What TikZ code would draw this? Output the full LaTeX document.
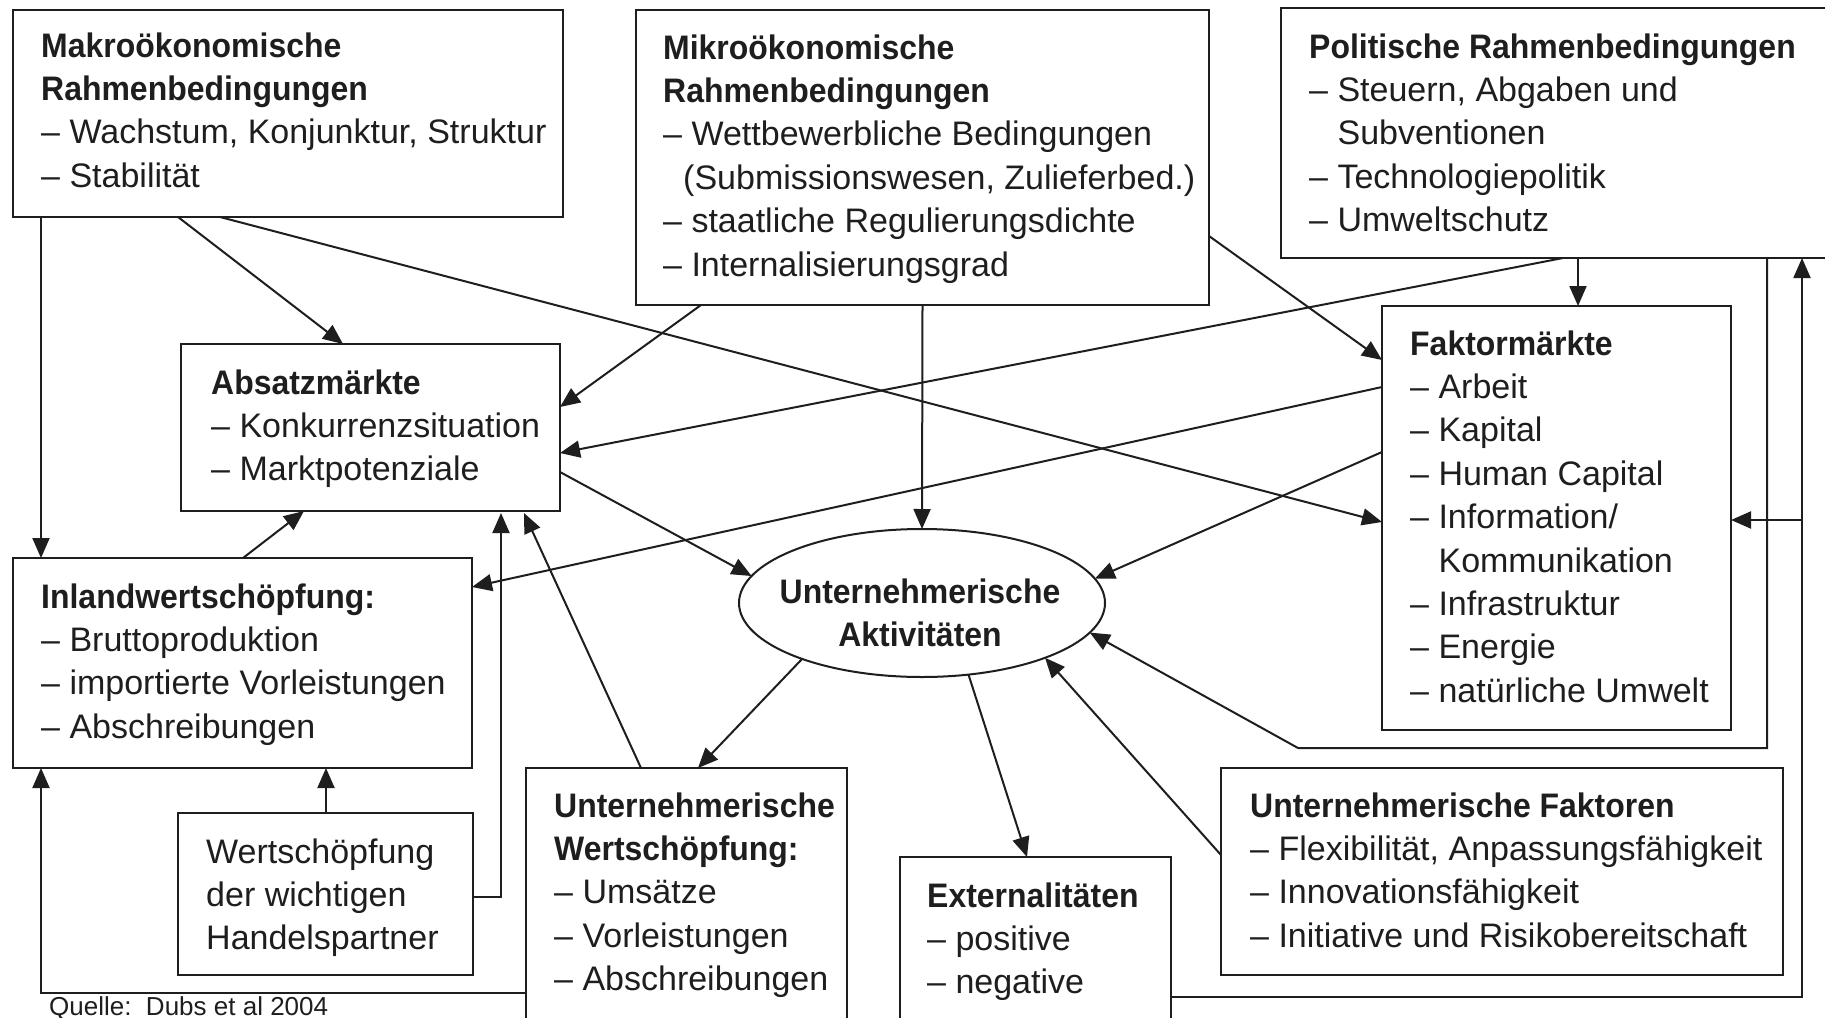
\documentclass[tikz,border=0pt]{standalone}
\usepackage{fontspec}
\setmainfont{Liberation Sans}
\newfontface\hb[FakeStretch=0.94]{Liberation Sans Bold}
\usetikzlibrary{arrows.meta,shapes.geometric,calc}
\definecolor{ink}{HTML}{1E1E1E}
% left-aligned block of lines whose baseline is the first line
\newcommand\txtlines[1]{\begin{tabular}[t]{@{}l@{}}#1\end{tabular}}
\newcommand\dashind{\phantom{– }}
\begin{document}
\begin{tikzpicture}[x=1pt,y=-1pt,
  box/.style={draw=ink, line width=2pt, rectangle, anchor=north west,
              inner sep=0pt, outer sep=0pt},
  txt/.style={anchor=base west, inner sep=0pt, text=ink,
              font=\fontsize{34}{43.4}\selectfont},
  conn/.style={draw=ink, line width=2pt},
  flow/.style={conn, -{Triangle[length=20pt,width=17pt]}}]

\useasboundingbox (0,0) rectangle (1825,1017);
\fill[white] (0,0) rectangle (1825,1017);

% ---------- boxes ----------
\node[box, minimum width=550pt, minimum height=207pt] (macro)  at (13,10)    {};
\node[box, minimum width=573pt, minimum height=295pt] (micro)  at (636,10)   {};
\node[box, minimum width=560pt, minimum height=250pt] (polit)  at (1281,8)   {};
\node[box, minimum width=379pt, minimum height=167pt] (absatz) at (181,344)  {};
\node[box, minimum width=349pt, minimum height=424pt] (faktor) at (1382,306) {};
\node[box, minimum width=459pt, minimum height=210pt] (inland) at (13,558)   {};
\node[box, minimum width=295pt, minimum height=162pt] (handel) at (178,813)  {};
\node[box, minimum width=321pt, minimum height=262pt] (uws)    at (526,768)  {};
\node[box, minimum width=271pt, minimum height=173pt] (ext)    at (900,857)  {};
\node[box, minimum width=562pt, minimum height=207pt] (ufak)   at (1221,768) {};
\node[draw=ink, line width=2pt, ellipse, inner sep=0pt, outer sep=0pt,
      minimum width=366pt, minimum height=148pt] (ell) at (922,603) {};

% ---------- texts ----------
\node[txt] (macroT) at (41,57) {\txtlines{\hb Makroökonomische\\
  \hb Rahmenbedingungen\\ – Wachstum, Konjunktur, Struktur\\ – Stabilität}};
\node[txt] (microT) at (663,59) {\txtlines{\hb Mikroökonomische\\
  \hb Rahmenbedingungen\\ – Wettbewerbliche Bedingungen\\
  \hspace*{20pt}(Submissionswesen, Zulieferbed.)\\
  – staatliche Regulierungsdichte\\ – Internalisierungsgrad}};
\node[txt] (politT) at (1309,58) {\txtlines{\hb Politische Rahmenbedingungen\\
  – Steuern, Abgaben und\\ \dashind Subventionen\\
  – Technologiepolitik\\ – Umweltschutz}};
\node[txt] (absatzT) at (211,394) {\txtlines{\hb Absatzmärkte\\
  – Konkurrenzsituation\\ – Marktpotenziale}};
\node[txt] (faktorT) at (1410,355) {\txtlines{\hb Faktormärkte\\
  – Arbeit\\ – Kapital\\ – Human Capital\\ – Information/\\
  \dashind Kommunikation\\ – Infrastruktur\\ – Energie\\
  – natürliche Umwelt}};
\node[txt] (inlandT) at (41,608) {\txtlines{\hb Inlandwertschöpfung:\\
  – Bruttoproduktion\\ – importierte Vorleistungen\\ – Abschreibungen}};
\node[txt] (handelT) at (206,863) {\txtlines{Wertschöpfung\\
  der wichtigen\\ Handelspartner}};
\node[txt] (uwsT) at (554,817) {\txtlines{\hb Unternehmerische\\
  \hb Wertschöpfung:\\ – Umsätze\\ – Vorleistungen\\ – Abschreibungen}};
\node[txt] (extT) at (927,907) {\txtlines{\hb Externalitäten\\
  – positive\\ – negative}};
\node[txt] (ufakT) at (1250,817) {\txtlines{\hb Unternehmerische Faktoren\\
  – Flexibilität, Anpassungsfähigkeit\\ – Innovationsfähigkeit\\
  – Initiative und Risikobereitschaft}};
\node[txt, anchor=base] (ellT) at (920,603) {\begin{tabular}[t]{@{}c@{}}%
  \hb Unternehmerische\\ \hb Aktivitäten\end{tabular}};

\node[anchor=base west, inner sep=0pt, text=ink,
      font=\fontsize{26}{30}\selectfont] (src) at (49,1015)
  {\frenchspacing Quelle:\ \ Dubs et al 2004};

% ---------- connectors ----------
% from the macroeconomic frame
\draw[flow] ($(macro.south west)+(28,0)$) -- ($(inland.north west)+(28,0)$);
\draw[flow] ($(macro.south west)+(165,0)$) -- ($(absatz.north west)+(162,0)$);
\draw[flow] ($(macro.south west)+(207,0)$) -- ($(faktor.north west)+(0,216)$);
% from the microeconomic frame
\draw[flow] ($(micro.south west)+(65,0)$) -- ($(absatz.north east)+(0,63)$);
\draw[flow] (micro.south) -- (ell.north);
\draw[flow] ($(micro.north east)+(0,226)$) -- ($(faktor.north west)+(0,54)$);
% from the political frame
\draw[flow] ($(polit.south west)+(282,0)$) -- ($(absatz.north east)+(0,109)$);
\draw[flow] ($(polit.south west)+(297,0)$) -- ($(faktor.north west)+(196,0)$);
\coordinate (bend) at ($(faktor.south west)+(-84,18)$);
\draw[flow] ($(polit.south west)+(486,0)$) |- (bend) -- (ell.350);
% from the factor markets
\draw[flow] ($(faktor.north west)+(0,81)$) -- ($(inland.north east)+(0,29)$);
\draw[flow] ($(faktor.north west)+(0,146)$) -- (ell.8);
% around the sales markets
\draw[flow] ($(absatz.north east)+(0,128)$) -- (ell.171);
\draw[flow] ($(inland.north west)+(230,0)$) -- ($(absatz.south west)+(123,0)$);
\draw[flow] ($(uws.north west)+(115,0)$) -- ($(absatz.south west)+(343,2)$);
\draw[flow] ($(handel.north east)+(0,84)$) -| ($(absatz.south west)+(320,2)$);
\draw[flow] ($(handel.north west)+(148,0)$) -- ($(inland.south west)+(313,0)$);
\draw[flow] ($(uws.north west)+(0,225)$) -| ($(inland.south west)+(28,0)$);
% from the entrepreneurial activities
\draw[flow] (ell.205) -- ($(uws.north west)+(172,0)$);
\draw[flow] (ell.303) -- ($(ext.north west)+(127,0)$);
\draw[flow] ($(ufak.north west)+(0,87)$) -- (ell.336);
% feedback of the externalities
\draw[flow] ($(ext.north east)+(0,140)$) -| ($(polit.south west)+(521,0)$);
\draw[flow] ($(polit.south west)+(521,262)$) -- ($(faktor.north east)+(0,214)$);
\end{tikzpicture}
\end{document}
